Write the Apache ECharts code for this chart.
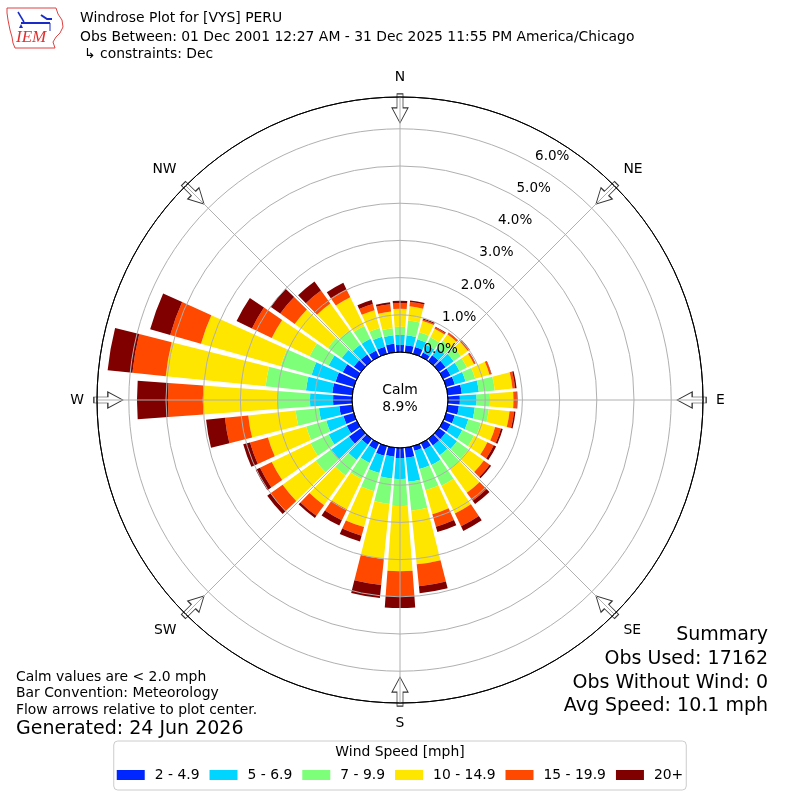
<!DOCTYPE html>
<html>
<head>
<meta charset="utf-8">
<script src="https://cdn.jsdelivr.net/npm/echarts@6.0.0/dist/echarts.min.js"></script>
<style>html,body{margin:0;padding:0;background:#fff}#c{width:800px;height:800px}</style>
</head>
<body>
<div id="c"></div>
<script>
// ---------------- data ----------------
const directions = ['0','10','20','30','40','50','60','70','80','90','100','110','120','130','140','150','160','170',
  '180','190','200','210','220','230','240','250','260','270','280','290','300','310','320','330','340','350'];
const speedBins = ['2 - 4.9', '5 - 6.9', '7 - 9.9', '10 - 14.9', '15 - 19.9', '20+'];
const binColors = ['#0026ff', '#00d5ff', '#7dff7a', '#ffe600', '#ff4800', '#800000'];
// percent of observations per direction bin (0..350 deg, clockwise from N)
const speed2to5 = [.19,.19,.19,.13,.19,.22,.22,.24,.38,.32,.30,.24,.22,.22,.22,.19,.13,.27,.27,.24,.27,.19,.19,.40,.30,.29,.35,.51,.54,.51,.42,.24,.22,.19,.20,.23];
const speed5to7 = [.27,.27,.22,.22,.24,.27,.27,.30,.46,.45,.43,.38,.35,.38,.32,.46,.51,.65,.56,.59,.48,.40,.51,.59,.54,.48,.55,.62,.71,.67,.42,.40,.32,.35,.28,.23];
const speed7to10 = [.22,.40,.19,.23,.24,.24,.22,.27,.43,.36,.38,.35,.35,.38,.46,.62,.59,.78,.73,.69,.51,.48,.51,.51,.54,.56,.63,.89,1.09,.86,.57,.46,.48,.38,.24,.19];
const speed10to15 = [.48,.38,.32,.26,.22,.23,.21,.40,.48,.63,.56,.40,.40,.51,.78,.83,.67,1.45,1.75,1.49,1.00,.91,.99,1.10,1.16,1.07,1.28,1.99,2.70,2.23,1.13,1.10,.89,.86,.50,.45];
const speed15to20 = [.15,.12,.04,.04,.05,.05,.04,.05,.07,.09,.12,.16,.19,.19,.27,.38,.35,.59,.67,.70,.24,.32,.35,.40,.35,.50,.63,.94,.90,.86,.59,.48,.43,.24,.17,.20];
const speed20plus = [.07,.04,.03,.02,.01,.01,.01,.01,.04,.02,.04,.05,.07,.05,.11,.14,.15,.19,.32,.35,.16,.16,.07,.11,.13,.19,.51,.83,.67,.56,.46,.32,.30,.19,.11,.05];
const binValues = [speed2to5, speed5to7, speed7to10, speed10to15, speed15to20, speed20plus];
const compassLabels = ['N', 'NE', 'E', 'SE', 'S', 'SW', 'W', 'NW'];
const compassAngles = [0, 45, 90, 135, 180, 225, 270, 315];
const radialTicks = [0, 1, 2, 3, 4, 5, 6];
const calmPercent = '8.9%';

// ---------------- layout ----------------
const FONT = '"DejaVu Sans"';
const CX = 400, CY = 400, R0 = 48, R1 = 303;
const RMAX = 6.855;        // percent at the outer circle
const ARROW_R = 6.55;      // radial position of the flow arrows
const ARROW = 'path://M5,0L11,0L11,14L16,14L8,29L0,14L5,14Z';

const gridColors = ['#000000'].concat(radialTicks.slice(1).map(() => '#b0b0b0')).concat(['#000000']);

const chart = echarts.init(document.getElementById('c'), null, {renderer: 'canvas'});

const barSeries = speedBins.map((name, i) => ({
  type: 'bar', name: name, coordinateSystem: 'polar', polarIndex: 0, stack: 'total',
  data: binValues[i], itemStyle: {color: binColors[i]}, barCategoryGap: '16%', z: 2, silent: true
}));

const arrowSeries = {
  type: 'scatter', coordinateSystem: 'polar', polarIndex: 1, silent: true, z: 3,
  symbol: ARROW, symbolSize: [16, 29],
  itemStyle: {color: '#ffffff', borderColor: '#333333', borderWidth: 1, opacity: 1},
  data: compassAngles.map(a => ({value: [ARROW_R, a], symbolRotate: -a}))
};

const txt = (text, x, y, size, align, extra) => Object.assign({
  type: 'text', x: x, y: y, z: 100, silent: true,
  style: {text: text, fill: '#000', font: size + 'px ' + FONT, align: align || 'left', verticalAlign: 'middle'}
}, extra || {});

const option = {
  animation: false,
  backgroundColor: '#ffffff',
  textStyle: {fontFamily: 'DejaVu Sans', color: '#000'},
  polar: [
    {center: [CX, CY], radius: [R0, R1]},
    {center: [CX, CY], radius: [R0, R1]},
    {center: [CX, CY], radius: [R0 + 16, R1 + 16]}
  ],
  angleAxis: [
    {polarIndex: 0, type: 'category', data: directions, startAngle: 95, clockwise: true,
     axisLine: {show: false}, axisTick: {show: false}, axisLabel: {show: false}, splitLine: {show: false}, z: 1},
    {polarIndex: 1, type: 'value', min: 0, max: 360, interval: 45, startAngle: 90, clockwise: true,
     axisLine: {show: true, lineStyle: {color: '#000', width: 1}},
     axisTick: {show: false},
     axisLabel: {show: true, margin: 13, fontSize: 13.9, color: '#000', fontFamily: 'DejaVu Sans',
       formatter: v => { const k = compassAngles.indexOf(v); return k >= 0 ? compassLabels[k] : ''; }},
     splitLine: {show: true, lineStyle: {color: '#b0b0b0', width: 1}}, z: 5},
    {polarIndex: 2, type: 'value', min: 0, max: 360, startAngle: 60, clockwise: true,
     axisLine: {show: false}, axisTick: {show: false}, axisLabel: {show: false}, splitLine: {show: false}}
  ],
  radiusAxis: [
    {polarIndex: 0, type: 'value', min: 0, max: RMAX,
     axisLine: {show: false}, axisTick: {show: false}, axisLabel: {show: false}, splitLine: {show: false}},
    {polarIndex: 1, type: 'value', min: 0, max: RMAX, interval: 1,
     axisLine: {show: false}, axisTick: {show: false}, axisLabel: {show: false},
     splitLine: {show: true, lineStyle: {color: gridColors, width: 1}}, z: 4},
    {polarIndex: 2, type: 'value', min: 0, max: RMAX, interval: 1,
     axisLine: {show: false}, axisTick: {show: false}, splitLine: {show: false},
     axisLabel: {show: true, margin: -10, align: 'center', verticalAlign: 'middle', fontSize: 13.5,
       color: '#000', fontFamily: 'DejaVu Sans',
       formatter: v => (radialTicks.indexOf(Math.round(v)) >= 0 && Math.abs(v - Math.round(v)) < 1e-6) ? v.toFixed(1) + '%' : ''},
     z: 6}
  ],
  legend: {
    data: speedBins, left: 'center', top: 741, orient: 'horizontal', icon: 'rect',
    itemWidth: 28, itemHeight: 10, itemGap: 10, padding: [27, 3, 8, 3],
    backgroundColor: '#ffffff', borderColor: '#cccccc', borderWidth: 1, borderRadius: 4,
    selectedMode: false,
    textStyle: {fontSize: 13.9, color: '#000', fontFamily: 'DejaVu Sans', padding: [0, 0, 0, 5]}
  },
  series: barSeries.concat([arrowSeries]),
  graphic: [
    // logo
    {type: 'polygon', z: 100, silent: true,
     shape: {points: [[7,8],[56,8],[58,14],[62,20],[63,27],[60,33],[56,37],[53,42],[55,48],[15,48],[13,43],[12,37],[10,30],[8,20],[7,13]]},
     style: {fill: 'none', stroke: '#e04040', lineWidth: 1}},
    {type: 'polyline', z: 100, silent: true, shape: {points: [[21,23],[50,23]]}, style: {stroke: '#1a2cc8', lineWidth: 2}},
    {type: 'polyline', z: 100, silent: true, shape: {points: [[18,12],[24,22]]}, style: {stroke: '#1a2cc8', lineWidth: 1.5}},
    {type: 'polyline', z: 100, silent: true, shape: {points: [[41,15],[47,19],[52,19]]}, style: {stroke: '#1a2cc8', lineWidth: 2}},
    {type: 'polyline', z: 100, silent: true, shape: {points: [[50,23],[50,31]]}, style: {stroke: '#1a2cc8', lineWidth: 1}},
    {type: 'polygon', z: 100, silent: true, shape: {points: [[19,28],[21,24],[23,28]]}, style: {fill: '#1a2cc8'}},
    {type: 'text', x: 16, y: 38, z: 100, silent: true,
     style: {text: 'IEM', fill: '#e03030', font: 'italic 17px "Liberation Serif"', align: 'left', verticalAlign: 'middle'}},
    // header
    txt('Windrose Plot for [VYS] PERU', 80, 18, 13.9),
    txt('Obs Between: 01 Dec 2001 12:27 AM - 31 Dec 2025 11:55 PM America/Chicago', 80, 37, 13.9),
    txt('\u21b3 constraints: Dec', 84, 54, 13.9),
    // calm
    txt('Calm', CX, 390, 13.9, 'center'),
    txt(calmPercent, CX, 407, 13.9, 'center'),
    // footer left
    txt('Calm values are < 2.0 mph', 16, 677, 13.9),
    txt('Bar Convention: Meteorology', 16, 693, 13.9),
    txt('Flow arrows relative to plot center.', 16, 710, 13.9),
    txt('Generated: 24 Jun 2026', 16, 729, 19),
    // footer right
    txt('Summary', 768, 635, 19, 'right'),
    txt('Obs Used: 17162', 768, 659, 19, 'right'),
    txt('Obs Without Wind: 0', 768, 683, 19, 'right'),
    txt('Avg Speed: 10.1 mph', 768, 706, 19, 'right'),
    // legend title
    txt('Wind Speed [mph]', 400, 752, 13.9, 'center')
  ]
};
chart.setOption(option);
</script>
</body>
</html>
